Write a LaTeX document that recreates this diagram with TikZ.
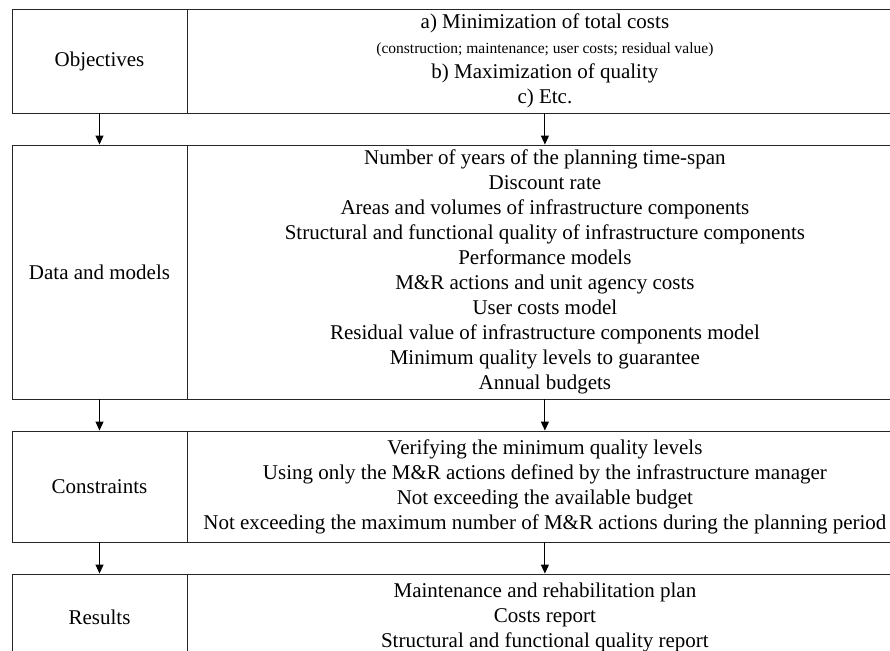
\documentclass[tikz,border=0pt]{standalone}
\usepackage{fontspec}
\setmainfont{Liberation Serif}
\usetikzlibrary{arrows.meta}

\tikzset{
    cell/.style={draw=black!85, line width=0.9pt, inner sep=0pt, align=center,
                 font=\fontsize{21}{25}\selectfont},
    namecell/.style={cell, minimum width=175pt},
    textcell/.style={cell, minimum width=714pt, anchor=west},
    flow/.style={-{Triangle[length=9pt,width=8pt]}, line width=0.9pt}
}

\begin{document}
\begin{tikzpicture}[x=1pt, y=-1pt]

    % Frame of the page (the boxes run off the right and bottom edges)
    \useasboundingbox (0,0) rectangle (890,650);
    \clip (0,0) rectangle (890,650);

    % Objectives row
    \node[namecell, minimum height=104pt] (objname) at (99.5,61) {Objectives};
    \node[textcell, minimum height=104pt] (objtext) at (objname.east)
        {a) Minimization of total costs\\
         {\fontsize{15.5}{25}\selectfont (construction; maintenance; user costs; residual value)}\\
         b) Maximization of quality\\
         c) Etc.};

    % Data and models row
    \node[namecell, minimum height=254pt] (dataname) at (99.5,272) {Data and models};
    \node[textcell, minimum height=254pt] (datatext) at (dataname.east)
        {Number of years of the planning time-span\\
         Discount rate\\
         Areas and volumes of infrastructure components\\
         Structural and functional quality of infrastructure components\\
         Performance models\\
         M\&R actions and unit agency costs\\
         User costs model\\
         Residual value of infrastructure components model\\
         Minimum quality levels to guarantee\\
         Annual budgets};

    % Constraints row
    \node[namecell, minimum height=111pt] (consname) at (99.5,486.5) {Constraints};
    \node[textcell, minimum height=111pt] (constext) at (consname.east)
        {Verifying the minimum quality levels\\
         Using only the M\&R actions defined by the infrastructure manager\\
         Not exceeding the available budget\\
         Not exceeding the maximum number of M\&R actions during the planning period};

    % Results row
    \node[namecell, minimum height=86pt] (resname) at (99.5,617) {Results};
    \node[textcell, minimum height=86pt] (restext) at (resname.east)
        {Maintenance and rehabilitation plan\\
         Costs report\\
         Structural and functional quality report};

    % Arrows between the rows
    \draw[flow] (objname.south) -- (dataname.north);
    \draw[flow] (objtext.south) -- (datatext.north);
    \draw[flow] (dataname.south) -- (consname.north);
    \draw[flow] (datatext.south) -- (constext.north);
    \draw[flow] (consname.south) -- (resname.north);
    \draw[flow] (constext.south) -- (restext.north);

\end{tikzpicture}
\end{document}
